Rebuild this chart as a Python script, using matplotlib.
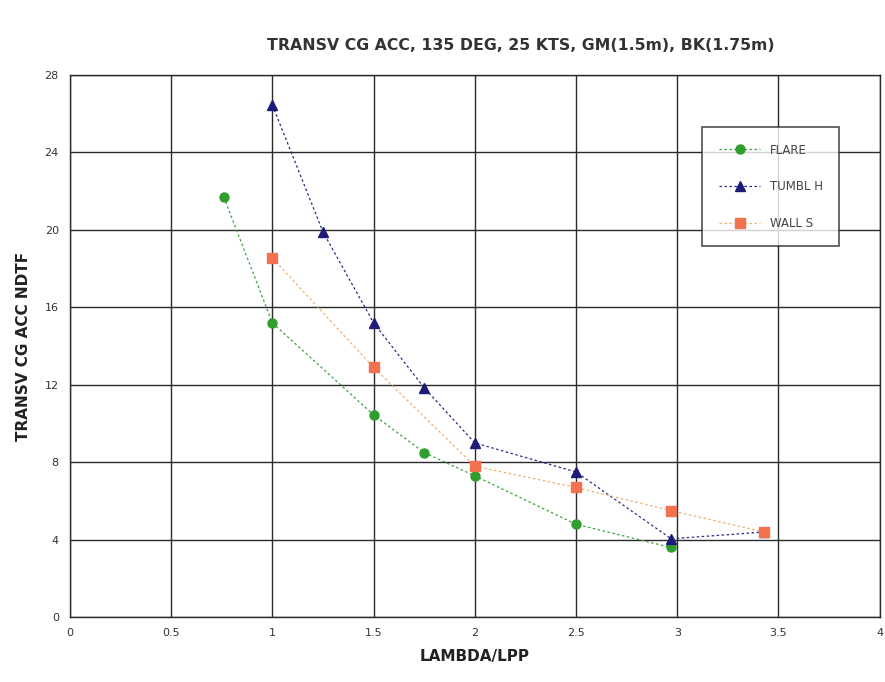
import matplotlib
matplotlib.use("Agg")
import matplotlib.pyplot as plt

flare_x = [0.76, 1.0, 1.5, 1.75, 2.0, 2.5, 2.97]
flare_y = [21.7, 15.2, 10.45, 8.5, 7.3, 4.8, 3.6]

tumbl_x = [1.0, 1.25, 1.5, 1.75, 2.0, 2.5, 2.97, 3.43]
tumbl_y = [26.45, 19.9, 15.2, 11.85, 9.0, 7.5, 4.05, 4.4]

wall_x = [1.0, 1.5, 2.0, 2.5, 2.97, 3.43]
wall_y = [18.55, 12.9, 7.8, 6.7, 5.5, 4.4]

xticks = [0, 0.5, 1, 1.5, 2, 2.5, 3, 3.5, 4]
xticklabels = ["0", "0.5", "1", "1.5", "2", "2.5", "3", "3.5", "4"]
yticks = [0, 4, 8, 12, 16, 20, 24, 28]

fig = plt.figure(figsize=(8.85, 6.82), dpi=100)
ax = fig.add_axes([0.079, 0.095, 0.915, 0.795])

ax.plot(flare_x, flare_y, linestyle=(0, (2, 2)), color="#3aa53a", lw=0.9,
        marker="o", ms=6.5, mfc="#2f9e2f", mec="#2f9e2f", label="FLARE")
ax.plot(tumbl_x, tumbl_y, linestyle=(0, (2, 2)), color="#2a2a8a", lw=0.9,
        marker="^", ms=7.5, mfc="#1c1c78", mec="#1c1c78", label="TUMBL H")
ax.plot(wall_x, wall_y, linestyle=(0, (2, 2)), color="#f0b070", lw=0.9,
        marker="s", ms=7, mfc="#f2714f", mec="#f2714f", label="WALL S")

ax.set_xlim(0, 4)
ax.set_ylim(0, 28)
ax.set_xticks(xticks)
ax.set_xticklabels(xticklabels)
ax.set_yticks(yticks)
ax.grid(True, color="#2a2a2a", lw=1.0)
ax.set_axisbelow(True)
for s in ax.spines.values():
    s.set_color("#2a2a2a")
    s.set_linewidth(1.0)
ax.tick_params(length=0, labelsize=8, colors="#333333", pad=8)

ax.set_xlabel("LAMBDA/LPP", fontsize=11, fontweight="bold", color="#222222", labelpad=8)
ax.set_ylabel("TRANSV CG ACC NDTF", fontsize=11, fontweight="bold", color="#222222", labelpad=10)

fig.text(0.589, 0.934, "TRANSV CG ACC, 135 DEG, 25 KTS, GM(1.5m), BK(1.75m)",
         ha="center", va="center", fontsize=11.3, fontweight="bold", color="#333333")

leg = ax.legend(loc="upper left", bbox_to_anchor=(0.781, 0.904), fontsize=8.5,
                frameon=True, fancybox=False, edgecolor="#222222",
                borderpad=1.4, labelspacing=2.0, handlelength=3.5,
                borderaxespad=0)
leg.get_frame().set_linewidth(1.2)
for t in leg.get_texts():
    t.set_color("#444444")

fig.savefig("out.png", dpi=100)
